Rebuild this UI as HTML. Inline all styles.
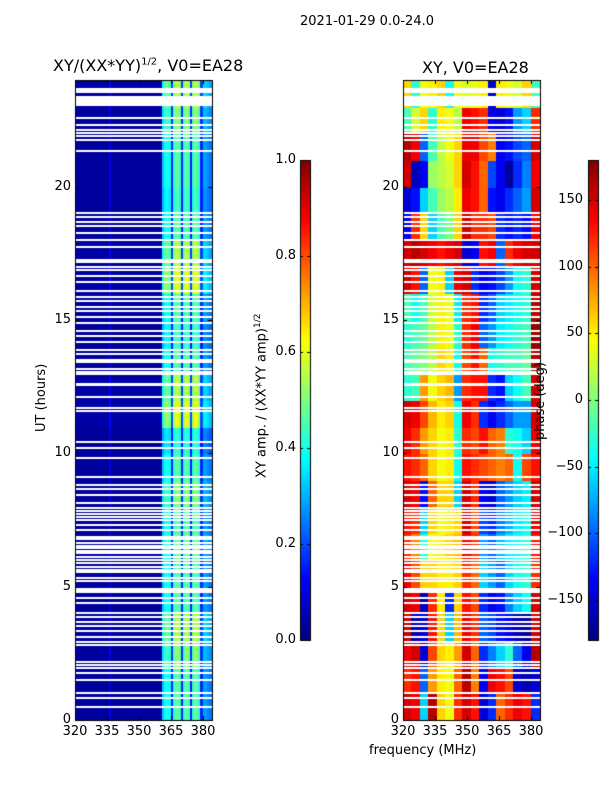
<!DOCTYPE html>
<html><head><meta charset="utf-8">
<style>
body{margin:0;background:#fff;width:600px;height:800px;position:relative;overflow:hidden;font-family:"DejaVu Sans","Liberation Sans",sans-serif;color:#000}
.t{position:absolute;white-space:nowrap;font-size:13px}
canvas{position:absolute;left:0;top:0}
</style></head><body>
<canvas id="c" width="600" height="800"></canvas>
<div class="t" style="left:300px;top:14px">2021-01-29 0.0-24.0</div>
<div class="t" style="left:53px;top:56px;font-size:16px">XY/(XX*YY)<sup style="font-size:10px">1/2</sup>, V0=EA28</div>
<div class="t" style="left:422px;top:58px;font-size:16px">XY, V0=EA28</div>
<div class="t" style="transform:translate(34px,0) rotate(-90deg);transform-origin:0 0;left:0;top:432px">UT (hours)</div>
<div class="t" style="left:369px;top:743px">frequency (MHz)</div>
<div class="t" style="left:253px;top:478px;transform:rotate(-90deg);transform-origin:0 0">XY amp. / (XX*YY amp)<sup style="font-size:9px">1/2</sup></div>
<div class="t" style="left:533px;top:440px;transform:rotate(-90deg);transform-origin:0 0">phase (deg)</div>
<div id="labels"></div>
<script>
const hourTicks=[0,5,10,15,20];
const freqTicks=[320,335,350,365,380];
const ampTicks=[0.0,0.2,0.4,0.6,0.8,1.0];
const phaseTicks=[-150,-100,-50,0,50,100,150];
// amplitude per 1 MHz channel from 320 MHz
const ampChannels=[0.03,0.03,0.03,0.03,0.03,0.03,0.03,0.03,0.03,0.03,0.03,0.03,0.03,0.03,0.03,0.03,0.1,0.03,0.03,0.03,0.03,0.03,0.03,0.03,0.03,0.03,0.03,0.03,0.03,0.03,0.03,0.03,0.03,0.03,0.03,0.03,0.03,0.03,0.03,0.03,0.04,0.32,0.38,0.4,0.38,0.16,0.42,0.47,0.47,0.42,0.16,0.42,0.47,0.45,0.16,0.42,0.47,0.47,0.42,0.16,0.28,0.28,0.26,0.24];
// amplitude gain per hour
const ampHourGain=[1,1,1.1,1.2,1,1,1.05,1,1.1,1,0.9,1.3,1.2,1,0.95,1,1.3,1.2,1,0.95,1,1,1.1,1.2];
// phase (deg): rows per hour, columns per 4 MHz starting 320
const phaseRows=[
[150,140,-60,160,60,40,120,150,130,-150,-120,100,120,140,130,-120],
[120,130,-100,80,50,40,100,160,90,-140,140,130,110,-150,-160,-150],
[140,150,-150,110,60,50,80,150,100,-120,-90,-60,-30,-100,-140,160],
[150,-160,-150,130,60,-60,70,140,120,-100,-110,-130,-140,-160,-170,150],
[150,140,-160,120,50,-120,60,130,110,-120,-140,-130,-90,-60,-40,150],
[140,110,60,60,50,50,60,120,100,-60,-80,-100,-60,-40,-30,120],
[120,90,-30,40,50,60,70,140,120,-80,-100,-70,-50,-40,-30,130],
[130,120,-60,60,40,50,60,150,110,-110,-120,-90,-70,-50,-40,140],
[150,140,-130,100,60,60,-60,150,120,-140,-150,-100,-80,-60,-50,150],
[130,120,100,60,40,50,-40,130,120,110,100,90,100,-40,110,130],
[140,120,80,60,40,50,-30,120,110,130,100,90,-30,-40,-60,140],
[150,140,110,70,50,60,-40,140,120,-120,-140,-120,-100,-80,-80,150],
[-30,-20,80,40,60,70,-80,120,130,130,-120,-130,-60,-40,-20,150],
[-20,-10,0,20,60,50,-40,110,130,100,-40,-30,-20,-20,-10,160],
[-30,-20,-10,20,50,40,-30,120,140,-100,-80,-50,-40,-30,-20,170],
[-20,-40,-20,30,50,40,-50,120,130,-120,-100,-60,-50,-40,-30,160],
[150,130,-100,40,50,-60,140,150,-120,-140,-130,-110,-80,-40,-30,150],
[150,160,150,140,130,140,150,-150,-140,130,140,-100,120,140,150,150],
[-140,120,60,-60,-20,0,60,150,120,120,110,-120,-130,-120,-130,140],
[-150,-130,-60,-20,10,20,50,140,130,100,-130,-140,-120,-100,-80,150],
[150,-160,-140,10,20,30,60,150,130,100,-110,-140,-170,-120,-90,140],
[160,140,-100,-20,20,40,60,140,140,110,90,-140,-130,-110,-100,150],
[-20,30,60,-30,50,40,20,140,130,120,-140,-150,-130,-80,-60,120],
[60,-30,40,50,60,-40,40,30,40,50,-150,50,40,30,60,-20]];
// flagged (white) time ranges in hours
const gapStart=[23.51,22.99,22.52,22.26,22.07,21.96,21.85,21.7,21.29,18.96,18.81,18.62,18.47,18.21,17.95,17.69,17.14,16.94,16.82,16.6,16.38,16.04,15.81,15.66,15.44,15.29,15.06,14.84,14.54,14.35,14.12,13.82,13.67,13.45,13.37,13.11,13.0,12.92,12.52,12.06,11.66,11.54,10.39,10.16,9.77,9.07,8.76,8.62,8.39,8.09,7.9,7.79,7.67,7.56,7.45,7.27,7.07,6.81,6.74,6.59,6.47,6.4,6.29,6.21,6.06,5.95,5.84,5.69,5.57,5.5,5.27,5.16,4.76,4.52,4.34,3.96,3.81,3.62,3.47,3.29,3.06,2.87,2.76,2.12,2.01,1.9,1.71,1.45,0.96,0.77,0.45];
const gapEnd=[23.74,23.47,22.62,22.36,22.17,22.06,21.95,21.8,21.39,19.06,18.91,18.72,18.57,18.31,18.05,17.79,17.32,17.04,16.92,16.7,16.48,16.14,15.91,15.76,15.54,15.39,15.16,14.94,14.64,14.45,14.22,13.92,13.77,13.55,13.47,13.21,13.1,13.02,12.67,12.16,11.74,11.64,10.46,10.27,9.87,9.19,8.86,8.7,8.49,8.19,8.0,7.89,7.77,7.66,7.55,7.35,7.17,6.91,6.84,6.69,6.57,6.5,6.39,6.31,6.16,6.05,5.94,5.79,5.67,5.6,5.37,5.26,4.99,4.62,4.44,4.06,3.91,3.72,3.57,3.39,3.16,2.97,2.86,2.22,2.11,2.0,1.81,1.55,1.06,0.87,0.49];

const cv=document.getElementById('c');const ctx=cv.getContext('2d');
const L={x:75,w:137},R={x:403,w:137},Y0=80,H=640,F0=320,F1=384.2,T1=24;
function xs(ax,f){return ax.x+(f-F0)/(F1-F0)*ax.w;}
function ys(h){return Y0+H-(h/T1)*H;}
function jet(v){v=Math.max(0,Math.min(1,v));
 const r=Math.max(0,Math.min(1,1.5-Math.abs(4*v-3))),g=Math.max(0,Math.min(1,1.5-Math.abs(4*v-2))),b=Math.max(0,Math.min(1,1.5-Math.abs(4*v-1)));
 return `rgb(${r*255|0},${g*255|0},${b*255|0})`;}
for(let hr=0;hr<24;hr++){for(let c=0;c<ampChannels.length;c++){
 const x=xs(L,F0+c),x2=xs(L,F0+c+1),y=ys(hr+1),y2=ys(hr);
 ctx.fillStyle=jet(ampChannels[c]*ampHourGain[hr]);ctx.fillRect(Math.floor(x),Math.floor(y),Math.ceil(x2-x)+1,Math.ceil(y2-y)+1);}}
for(let hr=0;hr<24;hr++){for(let c=0;c<16;c++){
 const x=xs(R,F0+c*4),x2=xs(R,Math.min(F1,F0+c*4+4)),y=ys(hr+1),y2=ys(hr);
 ctx.fillStyle=jet((phaseRows[hr][c]+180)/360);ctx.fillRect(Math.floor(x),Math.floor(y),Math.ceil(x2-x)+1,Math.ceil(y2-y)+1);}}
ctx.fillStyle='#fff';
for(let i=0;i<gapStart.length;i++){const d=ys(gapStart[i])-ys(gapEnd[i]);const h=Math.max(2,Math.round(d*0.75));
 const y=Math.round((ys(gapStart[i])+ys(gapEnd[i]))/2-h/2);
 ctx.fillRect(L.x,y,L.w,h);ctx.fillRect(R.x,y,R.w,h);}
ctx.fillRect(L.x+L.w+1,0,R.x-L.x-L.w-2,800);
ctx.fillRect(0,0,600,Y0);ctx.fillRect(0,Y0+H,600,80);ctx.fillRect(0,0,L.x,800);ctx.fillRect(R.x+R.w,0,60,800);
function cbar(x){for(let i=0;i<480;i++){ctx.fillStyle=jet(1-i/479);ctx.fillRect(x,160+i,10,1);}ctx.strokeStyle='#000';ctx.lineWidth=1;ctx.strokeRect(x+0.5,160.5,10,480);}
cbar(300);cbar(588);
ctx.strokeStyle='#000';ctx.lineWidth=1;
const lab=document.getElementById('labels');
function addLabel(txt,x,y,align,name){const d=document.createElement('div');d.className='t';d.textContent=txt;
 
 
 d.style.top=(y-8)+'px';if(align==='r'){d.style.right=(600-x)+'px';}else if(align==='c'){d.style.left=(x-16)+'px';d.style.width='32px';d.style.textAlign='center';}else d.style.left=x+'px';lab.appendChild(d);}
[L,R].forEach((ax,k)=>{ctx.strokeRect(ax.x+0.5,Y0+0.5,ax.w,H);
 freqTicks.forEach(f=>{const x=Math.round(xs(ax,f))+0.5;ctx.beginPath();ctx.moveTo(x,Y0+H);ctx.lineTo(x,Y0+H-4);ctx.moveTo(x,Y0);ctx.lineTo(x,Y0+4);ctx.stroke();
  addLabel(String(f),xs(ax,f),Y0+H+12,'c',(k?'right':'left')+'-x-tick-label');});
 hourTicks.forEach(h=>{const y=Math.round(ys(h))+0.5;ctx.beginPath();ctx.moveTo(ax.x,y);ctx.lineTo(ax.x+4,y);ctx.moveTo(ax.x+ax.w,y);ctx.lineTo(ax.x+ax.w-4,y);ctx.stroke();
  addLabel(String(h),ax.x-4,ys(h),'r',(k?'right':'left')+'-y-tick-label');});});
ampTicks.forEach(v=>{const y=Math.round(640-v*480)+0.5;ctx.beginPath();ctx.moveTo(300,y);ctx.lineTo(303,y);ctx.moveTo(310,y);ctx.lineTo(307,y);ctx.stroke();
 addLabel(v.toFixed(1),296,640-v*480,'r','amp-colorbar-tick');});
phaseTicks.forEach(v=>{const y=Math.round(400-v*480/360)+0.5;ctx.beginPath();ctx.moveTo(588,y);ctx.lineTo(591,y);ctx.moveTo(598,y);ctx.lineTo(595,y);ctx.stroke();
 addLabel(v<0?'\u2212'+(-v):String(v),583,400-v*480/360,'r','phase-colorbar-tick');});
</script>
</body></html>
